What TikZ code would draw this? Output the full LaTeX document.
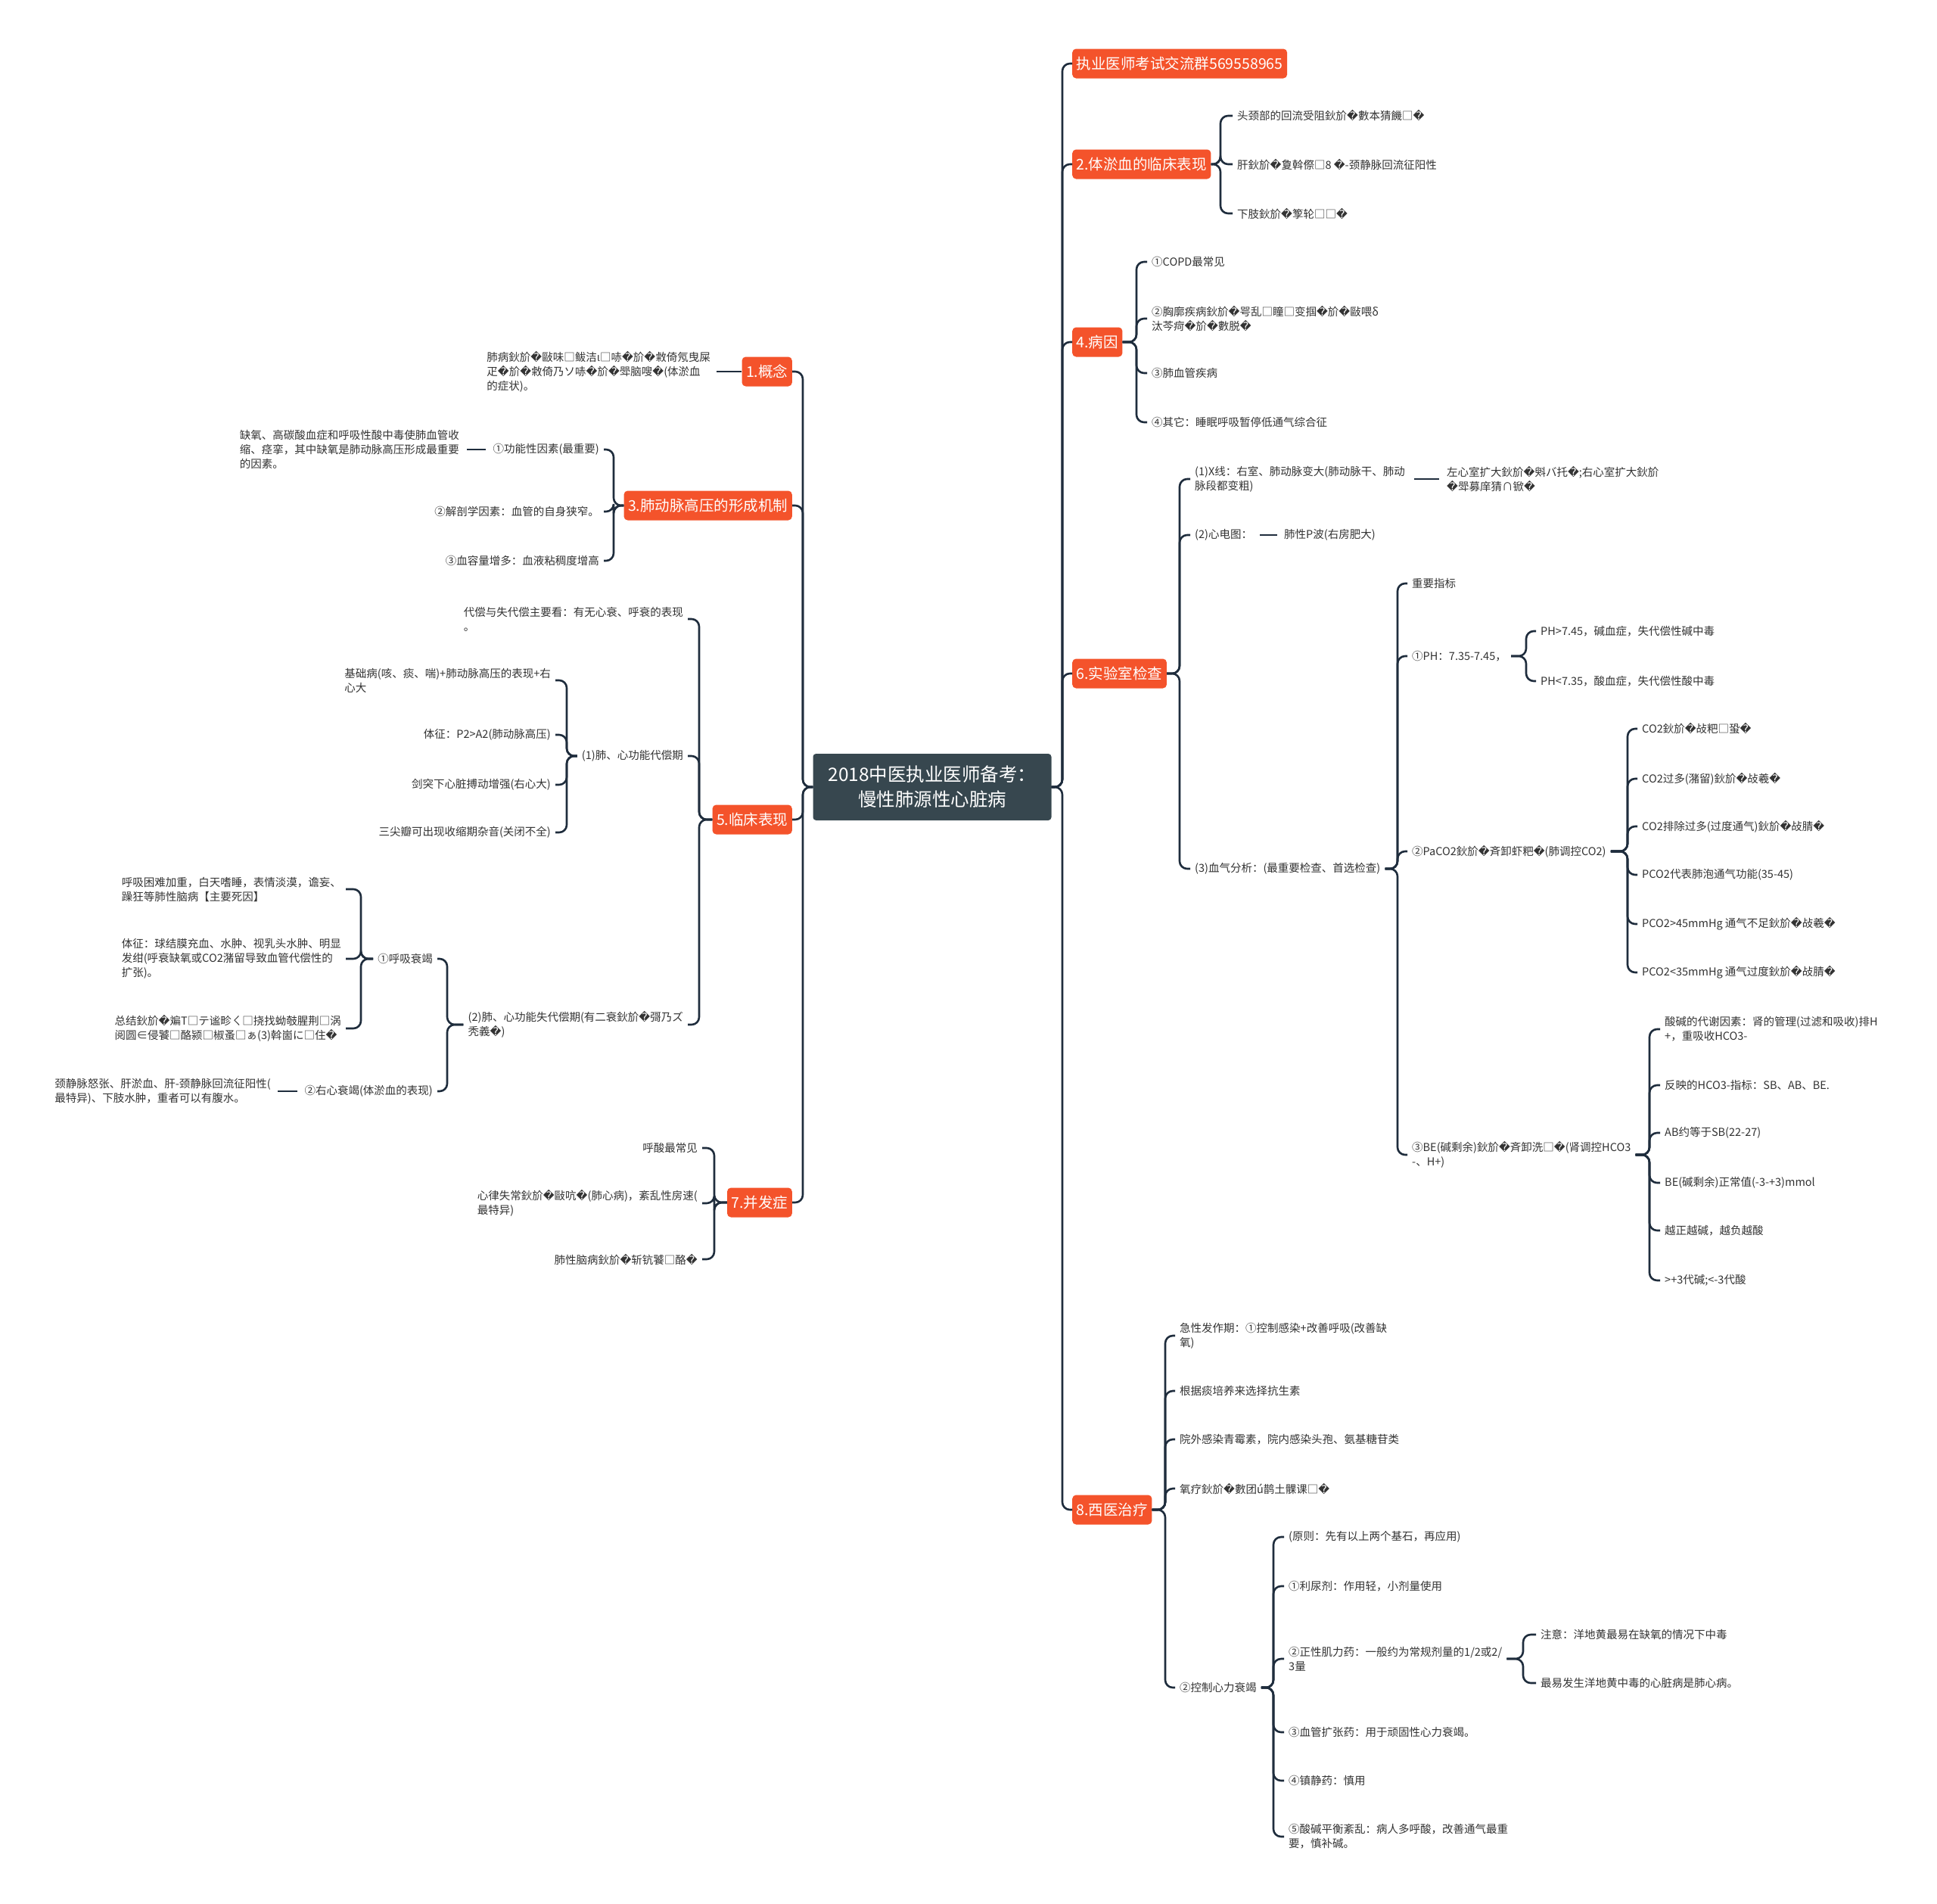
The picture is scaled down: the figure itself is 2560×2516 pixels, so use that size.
\documentclass[tikz,border=0pt]{standalone}
\usepackage{fontspec}
\setmainfont{Noto Sans CJK SC}
\newfontfamily\djv{DejaVu Sans}
\newcommand\rp{{\djv\symbol{"FFFD}}}
\definecolor{hubgray}{HTML}{37474F}
\definecolor{topicred}{HTML}{F4532B}
\definecolor{linenavy}{HTML}{1F2D3D}
\definecolor{leafgray}{HTML}{333333}

\begin{document}
\begin{tikzpicture}[x=1pt, y=-1pt,
  hub/.style={fill=hubgray, text=white, rounded corners=4pt, align=center,
              font=\fontsize{24.5pt}{33pt}\selectfont, minimum width=315pt, minimum height=88pt},
  topic/.style={fill=topicred, text=white, rounded corners=5pt, inner xsep=5.5pt,
              minimum height=39pt, font=\fontsize{19.5pt}{24pt}\selectfont},
  leaf/.style={text=leafgray, align=left, inner xsep=6pt, inner ysep=3pt,
              font=\fontsize{14.5pt}{19pt}\selectfont},
  conn/.style={draw=linenavy, line width=2.6pt, rounded corners=10pt}]
  \fill[white] (0,0) rectangle (2560,2516);
  \useasboundingbox (0,0) rectangle (2560,2516);

  \node[hub] (hub) at (1232,1040) {2018中医执业医师备考：\\慢性肺源性心脏病};

  % right side
  \node[topic, anchor=west] (qun) at (1417,84) {执业医师考试交流群569558965};
  \node[topic, anchor=west] (n2) at (1417,217) {2.体淤血的临床表现};
  \node[topic, anchor=west] (n4) at (1417,452) {4.病因};
  \node[topic, anchor=west] (n6) at (1417,890) {6.实验室检查};
  \node[topic, anchor=west] (n8) at (1417,1995) {8.西医治疗};

  \node[leaf, anchor=west] (a21) at (1629,153) {头颈部的回流受阻鈥斺\rp{}數本猜饑□\rp{}};
  \node[leaf, anchor=west] (a22) at (1629,217) {肝鈥斺\rp{}夐斡傺□8 \rp{}-颈静脉回流征阳性};
  \node[leaf, anchor=west] (a23) at (1629,282) {下肢鈥斺\rp{}箰轮□□\rp{}};

  \node[leaf, anchor=west] (a41) at (1516,346) {①COPD最常见};
  \node[leaf, anchor=west] (a42) at (1516,421) {②胸廓疾病鈥斺\rp{}咢乱□瞳□变掴\rp{}斺\rp{}敺喂δ\\汰芩疴\rp{}斺\rp{}數脱\rp{}};
  \node[leaf, anchor=west] (a43) at (1516,493) {③肺血管疾病};
  \node[leaf, anchor=west] (a44) at (1516,558) {④其它：睡眠呼吸暂停低通气综合征};

  \node[leaf, anchor=west] (xr) at (1573,633) {(1)X线：右室、肺动脉变大(肺动脉干、肺动\\脉段都变粗)};
  \node[leaf, anchor=west] (xr2) at (1906,633) {左心室扩大鈥斺\rp{}斞バ托\rp{};右心室扩大鈥斺\\\rp{}斝募庠猜∩锨\rp{}};
  \node[leaf, anchor=west] (ecg) at (1573,707) {(2)心电图：};
  \node[leaf, anchor=west] (ecg2) at (1691,707) {肺性P波(右房肥大)};
  \node[leaf, anchor=west] (bg) at (1573,1148) {(3)血气分析：(最重要检查、首选检查)};

  \node[leaf, anchor=west] (zy) at (1860,771) {重要指标};
  \node[leaf, anchor=west] (ph) at (1860,867) {①PH：7.35-7.45，};
  \node[leaf, anchor=west] (pa) at (1860,1125) {②PaCO2鈥斺\rp{}斉卸虾粑\rp{}(肺调控CO2)};
  \node[leaf, anchor=west] (be) at (1860,1526) {③BE(碱剩余)鈥斺\rp{}斉卸洗□\rp{}(肾调控HCO3\\-、H+)};

  \node[leaf, anchor=west] (ph1) at (2030,834) {PH>7.45，碱血症，失代偿性碱中毒};
  \node[leaf, anchor=west] (ph2) at (2030,900) {PH<7.35，酸血症，失代偿性酸中毒};

  \node[leaf, anchor=west] (p1) at (2164,963) {CO2鈥斺\rp{}敁粑□蛩\rp{}};
  \node[leaf, anchor=west] (p2) at (2164,1029) {CO2过多(潴留)鈥斺\rp{}敁羲\rp{}};
  \node[leaf, anchor=west] (p3) at (2164,1092) {CO2排除过多(过度通气)鈥斺\rp{}敁腈\rp{}};
  \node[leaf, anchor=west] (p4) at (2164,1156) {PCO2代表肺泡通气功能(35-45)};
  \node[leaf, anchor=west] (p5) at (2164,1221) {PCO2>45mmHg 通气不足鈥斺\rp{}敁羲\rp{}};
  \node[leaf, anchor=west] (p6) at (2164,1285) {PCO2<35mmHg 通气过度鈥斺\rp{}敁腈\rp{}};

  \node[leaf, anchor=west] (b1) at (2194,1360) {酸碱的代谢因素：肾的管理(过滤和吸收)排H\\+，重吸收HCO3-};
  \node[leaf, anchor=west] (b2) at (2194,1434) {反映的HCO3-指标：SB、AB、BE.};
  \node[leaf, anchor=west] (b3) at (2194,1497) {AB约等于SB(22-27)};
  \node[leaf, anchor=west] (b4) at (2194,1563) {BE(碱剩余)正常值(-3-+3)mmol};
  \node[leaf, anchor=west] (b5) at (2194,1626) {越正越碱，越负越酸};
  \node[leaf, anchor=west] (b6) at (2194,1692) {>+3代碱;<-3代酸};

  \node[leaf, anchor=west] (t1) at (1553,1765) {急性发作期：①控制感染+改善呼吸(改善缺\\氧)};
  \node[leaf, anchor=west] (t2) at (1553,1838) {根据痰培养来选择抗生素};
  \node[leaf, anchor=west] (t3) at (1553,1902) {院外感染青霉素，院内感染头孢、氨基糖苷类};
  \node[leaf, anchor=west] (t4) at (1553,1967) {氧疗鈥斺\rp{}數团ú鹊土髁课□\rp{}};
  \node[leaf, anchor=west] (xl) at (1553,2230) {②控制心力衰竭};

  \node[leaf, anchor=west] (x1) at (1697,2031) {(原则：先有以上两个基石，再应用)};
  \node[leaf, anchor=west] (x2) at (1697,2096) {①利尿剂：作用轻，小剂量使用};
  \node[leaf, anchor=west] (zx) at (1697,2192) {②正性肌力药：一般约为常规剂量的1/2或2/\\3量};
  \node[leaf, anchor=west] (x4) at (1697,2289) {③血管扩张药：用于顽固性心力衰竭。};
  \node[leaf, anchor=west] (x5) at (1697,2353) {④镇静药：慎用};
  \node[leaf, anchor=west] (x6) at (1697,2427) {⑤酸碱平衡紊乱：病人多呼酸，改善通气最重\\要，慎补碱。};

  \node[leaf, anchor=west] (z1) at (2030,2160) {注意：洋地黄最易在缺氧的情况下中毒};
  \node[leaf, anchor=west] (z2) at (2030,2224) {最易发生洋地黄中毒的心脏病是肺心病。};

  % left side
  \node[topic, anchor=east] (g1) at (1047,491) {1.概念};
  \node[topic, anchor=east] (g3) at (1047,668) {3.肺动脉高压的形成机制};
  \node[topic, anchor=east] (g5) at (1047,1083) {5.临床表现};
  \node[topic, anchor=east] (g7) at (1047,1589) {7.并发症};

  \node[leaf, anchor=east] (c1) at (945,491) {肺病鈥斺\rp{}敺味□鲅洁ι□哧\rp{}斺\rp{}敹倚氖曳屎\\疋\rp{}斺\rp{}敹倚乃ソ哧\rp{}斺\rp{}斝脑嗖\rp{}(体淤血\\的症状)。};

  \node[leaf, anchor=east] (gn) at (798,594) {①功能性因素(最重要)};
  \node[leaf, anchor=east] (gn2) at (613,594) {缺氧、高碳酸血症和呼吸性酸中毒使肺血管收\\缩、痉挛，其中缺氧是肺动脉高压形成最重要\\的因素。};
  \node[leaf, anchor=east] (ja) at (798,676) {②解剖学因素：血管的自身狭窄。};
  \node[leaf, anchor=east] (vol) at (798,741) {③血容量增多：血液粘稠度增高};

  \node[leaf, anchor=east] (dc) at (909,818) {代偿与失代偿主要看：有无心衰、呼衰的表现\\。};
  \node[leaf, anchor=east] (dcq) at (909,999) {(1)肺、心功能代偿期};
  \node[leaf, anchor=east] (sdc) at (909,1354) {(2)肺、心功能失代偿期(有二衰鈥斺\rp{}彁乃ズ\\秃義\rp{})};

  \node[leaf, anchor=east] (d1) at (734,899) {基础病(咳、痰、喘)+肺动脉高压的表现+右\\心大};
  \node[leaf, anchor=east] (d2) at (734,971) {体征：P2>A2(肺动脉高压)};
  \node[leaf, anchor=east] (d3) at (734,1037) {剑突下心脏搏动增强(右心大)};
  \node[leaf, anchor=east] (d4) at (734,1100) {三尖瓣可出现收缩期杂音(关闭不全)};

  \node[leaf, anchor=east] (hx) at (578,1267) {①呼吸衰竭};
  \node[leaf, anchor=east] (yx) at (578,1442) {②右心衰竭(体淤血的表现)};
  \node[leaf, anchor=east] (yx2) at (364,1442) {颈静脉怒张、肝淤血、肝-颈静脉回流征阳性(\\最特异)、下肢水肿，重者可以有腹水。};

  \node[leaf, anchor=east] (h1) at (457,1175) {呼吸困难加重，白天嗜睡，表情淡漠，谵妄、\\躁狂等肺性脑病【主要死因】};
  \node[leaf, anchor=east] (h2) at (457,1267) {体征：球结膜充血、水肿、视乳头水肿、明显\\发绀(呼衰缺氧或CO2潴留导致血管代偿性的\\扩张)。};
  \node[leaf, anchor=east] (h3) at (457,1359) {总结鈥斺\rp{}斒T□テ谧畛ㄑ□挠找蚴攲腥荆□涡\\阅圆∈侵饕□酪颍□椒蚤□ぁ(3)斡崮に□住\rp{}};

  \node[leaf, anchor=east] (e1) at (928,1517) {呼酸最常见};
  \node[leaf, anchor=east] (e2) at (928,1590) {心律失常鈥斺\rp{}敺吭\rp{}(肺心病)，紊乱性房速(\\最特异)};
  \node[leaf, anchor=east] (e3) at (928,1664) {肺性脑病鈥斺\rp{}斩钪饕□酪\rp{}};

  % bracket points
  \coordinate (tR) at (1404,1040);
  \coordinate (tL) at (1061,1040);
  \coordinate (k2) at (1613,217);
  \coordinate (k4) at (1502,452);
  \coordinate (k6) at (1559,890);
  \coordinate (kbg) at (1847,1148);
  \coordinate (kph) at (2017,867);
  \coordinate (kpa) at (2151,1125);
  \coordinate (kbe) at (2180,1526);
  \coordinate (k8) at (1540,1995);
  \coordinate (kxl) at (1683,2230);
  \coordinate (kzx) at (2013,2192);
  \coordinate (k3) at (811,668);
  \coordinate (k5) at (924,1083);
  \coordinate (kdcq) at (749,999);
  \coordinate (ksdc) at (591,1354);
  \coordinate (khx) at (477,1267);
  \coordinate (k7) at (944,1589);

  % connectors
  \foreach \c in {qun,n2,n4,n6,n8} \draw[conn] (hub.east) -- (tR) |- (\c.west);
  \foreach \c in {a21,a22,a23} \draw[conn] (n2.east) -- (k2) |- (\c.west);
  \foreach \c in {a41,a42,a43,a44} \draw[conn] (n4.east) -- (k4) |- (\c.west);
  \foreach \c in {xr,ecg,bg} \draw[conn] (n6.east) -- (k6) |- (\c.west);
  \draw[conn, shorten <=6pt, shorten >=4pt] (xr) -- (xr2);
  \draw[conn, shorten <=4pt, shorten >=3pt] (ecg) -- (ecg2);
  \foreach \c in {zy,ph,pa,be} \draw[conn] (bg.east) -- (kbg) |- (\c.west);
  \foreach \c in {ph1,ph2} \draw[conn] (ph.east) -- (kph) |- (\c.west);
  \foreach \c in {p1,p2,p3,p4,p5,p6} \draw[conn] (pa.east) -- (kpa) |- (\c.west);
  \foreach \c in {b1,b2,b3,b4,b5,b6} \draw[conn] (be.east) -- (kbe) |- (\c.west);
  \foreach \c in {t1,t2,t3,t4,xl} \draw[conn] (n8.east) -- (k8) |- (\c.west);
  \foreach \c in {x1,x2,zx,x4,x5,x6} \draw[conn] (xl.east) -- (kxl) |- (\c.west);
  \foreach \c in {z1,z2} \draw[conn] (zx.east) -- (kzx) |- (\c.west);

  \foreach \c in {g1,g3,g5,g7} \draw[conn] (hub.west) -- (tL) |- (\c.east);
  \draw[conn, shorten >=2pt] (g1) -- (c1);
  \foreach \c in {gn,ja,vol} \draw[conn] (g3.west) -- (k3) |- (\c.east);
  \draw[conn, shorten <=3pt, shorten >=4pt] (gn) -- (gn2);
  \foreach \c in {dc,dcq,sdc} \draw[conn] (g5.west) -- (k5) |- (\c.east);
  \foreach \c in {d1,d2,d3,d4} \draw[conn] (dcq.west) -- (kdcq) |- (\c.east);
  \foreach \c in {hx,yx} \draw[conn] (sdc.west) -- (ksdc) |- (\c.east);
  \foreach \c in {h1,h2,h3} \draw[conn] (hx.west) -- (khx) |- (\c.east);
  \draw[conn, shorten <=3pt, shorten >=3pt] (yx) -- (yx2);
  \foreach \c in {e1,e2,e3} \draw[conn] (g7.west) -- (k7) |- (\c.east);
\end{tikzpicture}
\end{document}
